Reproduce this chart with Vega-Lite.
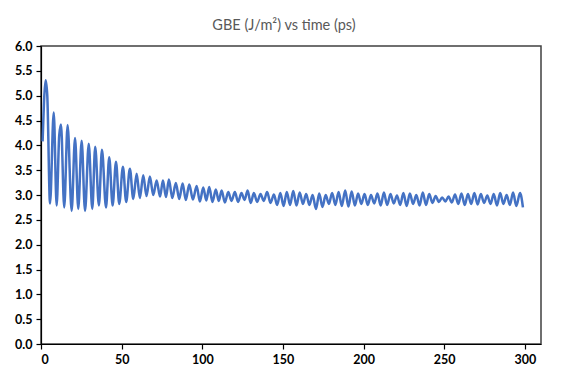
{
  "$schema": "https://vega.github.io/schema/vega-lite/v6.json",
  "width": 500,
  "height": 298,
  "autosize": {"type": "none"},
  "padding": {"left": 41, "top": 46, "right": 27, "bottom": 36},
  "background": "white",
  "title": {"text": "GBE (J/m²) vs time (ps)", "font": "Lato", "fontSize": 14.5, "fontWeight": "normal", "color": "#595959", "offset": 7, "dx": -7},
  "config": {
    "view": {"stroke": "#404040", "strokeWidth": 1.5},
    "axis": {"labelFont": "Lato", "labelFontSize": 12.5, "labelFontWeight": "bold", "labelColor": "#000000", "domainColor": "#000000", "tickColor": "#000000", "tickSize": 5, "grid": false, "title": null, "domainWidth": 1.2, "tickWidth": 1.2}
  },
  "data": {"values": [
    {"t": 1.0, "gbe": 4.08}, {"t": 2.9, "gbe": 5.31}, {"t": 3.9, "gbe": 5.0}, {"t": 5.6, "gbe": 2.83},
    {"t": 7.9, "gbe": 4.66}, {"t": 9.7, "gbe": 2.79}, {"t": 11.3, "gbe": 4.2}, {"t": 12.4, "gbe": 4.42},
    {"t": 14.4, "gbe": 2.75}, {"t": 16.5, "gbe": 4.41}, {"t": 19.0, "gbe": 2.68}, {"t": 21.1, "gbe": 4.15},
    {"t": 23.1, "gbe": 2.72}, {"t": 25.2, "gbe": 4.09}, {"t": 27.3, "gbe": 2.68}, {"t": 29.6, "gbe": 4.03},
    {"t": 31.8, "gbe": 2.72}, {"t": 33.6, "gbe": 3.97}, {"t": 35.9, "gbe": 2.79}, {"t": 37.8, "gbe": 3.91},
    {"t": 40.3, "gbe": 2.75}, {"t": 42.3, "gbe": 3.76}, {"t": 44.4, "gbe": 2.79}, {"t": 46.5, "gbe": 3.67},
    {"t": 48.5, "gbe": 2.82}, {"t": 50.8, "gbe": 3.57}, {"t": 52.8, "gbe": 2.86}, {"t": 55.1, "gbe": 3.53},
    {"t": 57.2, "gbe": 2.92}, {"t": 59.3, "gbe": 3.43}, {"t": 61.3, "gbe": 2.94}, {"t": 63.4, "gbe": 3.40},
    {"t": 65.4, "gbe": 2.98}, {"t": 67.5, "gbe": 3.37}, {"t": 69.6, "gbe": 3.0}, {"t": 71.7, "gbe": 3.29},
    {"t": 73.8, "gbe": 2.97}, {"t": 75.6, "gbe": 3.29}, {"t": 77.5, "gbe": 2.96}, {"t": 79.3, "gbe": 3.31},
    {"t": 81.4, "gbe": 2.94}, {"t": 83.6, "gbe": 3.24}, {"t": 85.7, "gbe": 2.92}, {"t": 87.8, "gbe": 3.23},
    {"t": 89.8, "gbe": 2.90}, {"t": 91.9, "gbe": 3.21}, {"t": 94.2, "gbe": 2.91}, {"t": 96.5, "gbe": 3.18},
    {"t": 98.5, "gbe": 2.87}, {"t": 100.6, "gbe": 3.15}, {"t": 102.5, "gbe": 2.89}, {"t": 104.3, "gbe": 3.16},
    {"t": 106.3, "gbe": 2.86}, {"t": 108.4, "gbe": 3.11}, {"t": 110.2, "gbe": 2.88}, {"t": 112.0, "gbe": 3.09},
    {"t": 114.0, "gbe": 2.85}, {"t": 116.1, "gbe": 3.06}, {"t": 118.1, "gbe": 2.88}, {"t": 120.2, "gbe": 3.06},
    {"t": 122.2, "gbe": 2.86}, {"t": 124.3, "gbe": 3.04}, {"t": 126.2, "gbe": 2.90}, {"t": 128.1, "gbe": 3.09},
    {"t": 130.0, "gbe": 2.84}, {"t": 132.0, "gbe": 3.04}, {"t": 134.0, "gbe": 2.86}, {"t": 136.1, "gbe": 3.02},
    {"t": 138.1, "gbe": 2.88}, {"t": 140.2, "gbe": 3.06}, {"t": 142.3, "gbe": 2.84}, {"t": 144.4, "gbe": 3.01},
    {"t": 146.4, "gbe": 2.80}, {"t": 148.4, "gbe": 3.04}, {"t": 150.4, "gbe": 2.78}, {"t": 152.4, "gbe": 3.06},
    {"t": 154.4, "gbe": 2.80}, {"t": 156.4, "gbe": 3.08}, {"t": 158.4, "gbe": 2.79}, {"t": 160.4, "gbe": 3.05},
    {"t": 162.4, "gbe": 2.82}, {"t": 164.4, "gbe": 3.02}, {"t": 166.4, "gbe": 2.80}, {"t": 168.4, "gbe": 3.00},
    {"t": 170.5, "gbe": 2.72}, {"t": 172.5, "gbe": 3.03}, {"t": 174.5, "gbe": 2.76}, {"t": 176.5, "gbe": 3.00},
    {"t": 178.5, "gbe": 2.82}, {"t": 180.5, "gbe": 3.04}, {"t": 182.5, "gbe": 2.80}, {"t": 184.5, "gbe": 3.06},
    {"t": 186.5, "gbe": 2.78}, {"t": 188.6, "gbe": 3.09}, {"t": 190.6, "gbe": 2.77}, {"t": 192.6, "gbe": 3.07},
    {"t": 194.6, "gbe": 2.79}, {"t": 196.6, "gbe": 3.03}, {"t": 198.6, "gbe": 2.82}, {"t": 200.6, "gbe": 3.02},
    {"t": 202.6, "gbe": 2.80}, {"t": 204.6, "gbe": 3.00}, {"t": 206.6, "gbe": 2.83}, {"t": 208.6, "gbe": 3.03},
    {"t": 210.6, "gbe": 2.79}, {"t": 212.6, "gbe": 3.05}, {"t": 214.6, "gbe": 2.80}, {"t": 216.7, "gbe": 3.02},
    {"t": 218.7, "gbe": 2.83}, {"t": 220.7, "gbe": 2.99}, {"t": 222.7, "gbe": 2.80}, {"t": 224.7, "gbe": 3.04},
    {"t": 226.7, "gbe": 2.78}, {"t": 228.7, "gbe": 3.03}, {"t": 230.7, "gbe": 2.82}, {"t": 232.7, "gbe": 3.00},
    {"t": 234.7, "gbe": 2.79}, {"t": 236.7, "gbe": 3.05}, {"t": 238.7, "gbe": 2.80}, {"t": 240.7, "gbe": 3.02},
    {"t": 242.7, "gbe": 2.84}, {"t": 244.7, "gbe": 2.98}, {"t": 246.7, "gbe": 2.86}, {"t": 248.7, "gbe": 2.95},
    {"t": 250.7, "gbe": 2.87}, {"t": 252.7, "gbe": 2.97}, {"t": 254.7, "gbe": 2.85}, {"t": 256.7, "gbe": 3.01},
    {"t": 258.7, "gbe": 2.82}, {"t": 260.7, "gbe": 3.03}, {"t": 262.7, "gbe": 2.80}, {"t": 264.7, "gbe": 3.02},
    {"t": 266.7, "gbe": 2.82}, {"t": 268.7, "gbe": 3.04}, {"t": 270.7, "gbe": 2.81}, {"t": 272.7, "gbe": 3.02},
    {"t": 274.7, "gbe": 2.84}, {"t": 276.7, "gbe": 2.99}, {"t": 278.7, "gbe": 2.82}, {"t": 280.7, "gbe": 3.02},
    {"t": 282.7, "gbe": 2.79}, {"t": 284.7, "gbe": 3.04}, {"t": 286.7, "gbe": 2.82}, {"t": 288.7, "gbe": 3.00},
    {"t": 290.7, "gbe": 2.80}, {"t": 292.7, "gbe": 3.05}, {"t": 294.7, "gbe": 2.78}, {"t": 297.0, "gbe": 3.04},
    {"t": 298.8, "gbe": 2.75}
  ]},
  "mark": {"type": "line", "color": "#4472C4", "strokeWidth": 2.5, "interpolate": "monotone"},
  "encoding": {
    "x": {"field": "t", "type": "quantitative", "scale": {"domain": [0, 310], "nice": false},
          "axis": {"values": [0, 50, 100, 150, 200, 250, 300], "labelPadding": 4}},
    "y": {"field": "gbe", "type": "quantitative", "scale": {"domain": [0, 6], "nice": false},
          "axis": {"values": [0, 0.5, 1, 1.5, 2, 2.5, 3, 3.5, 4, 4.5, 5, 5.5, 6], "format": ".1f", "labelPadding": 4}}
  }
}
